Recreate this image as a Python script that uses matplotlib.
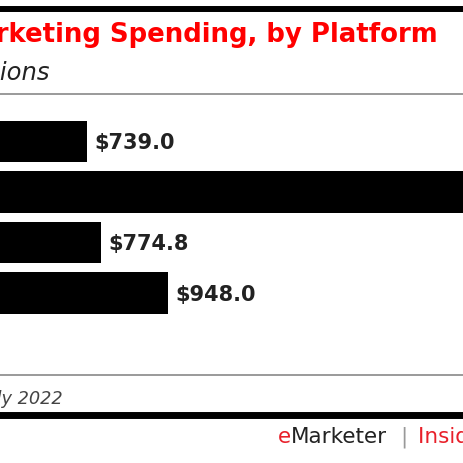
import matplotlib
matplotlib.use('Agg')
import matplotlib.pyplot as plt
from matplotlib.lines import Line2D

platforms = ['Facebook', 'Instagram', 'TikTok', 'YouTube']
spending = [739.0, 2230.0, 774.8, 948.0]
value_labels = ['$739.0', '', '$774.8', '$948.0']

title = 'US Influencer Marketing Spending, by Platform'
subtitle = 'millions'
source = 'Source: eMarketer, July 2022'

W = H = 464.0


def fx(px):
    return px / W


def fy(py):
    return 1 - py / H


def main():
    fig = plt.figure(figsize=(4.64, 4.64), dpi=100, facecolor='white')

    # axes run off the left edge, the picture is a crop
    x_max = 2000
    scale = 0.3876  # px per million
    left_px = -199
    ax = fig.add_axes([fx(left_px), fy(319.25), x_max * scale / W, 202 / H])
    ax.barh(range(len(platforms)), spending, height=0.82, color='black')
    for i, (v, lab) in enumerate(zip(spending, value_labels)):
        if lab:
            ax.annotate(lab, (v, i), xytext=(7, -1), textcoords='offset pixels',
                        va='center', ha='left', fontsize=15, fontweight='bold',
                        family='DejaVu Sans', color='#222222')
    ax.set_xlim(0, x_max)
    ax.set_ylim(3.5, -0.5)
    ax.axis('off')

    # rules
    fig.add_artist(Line2D([0, 1], [fy(10), fy(10)], color='black', lw=4.3))
    fig.add_artist(Line2D([0, 1], [fy(95), fy(95)], color='#9a9a9a', lw=1.4))
    fig.add_artist(Line2D([0, 1], [fy(376), fy(376)], color='#9a9a9a', lw=1.4))
    fig.add_artist(Line2D([0, 1], [fy(415.5), fy(415.5)], color='black', lw=5))

    fig.text(fx(438), fy(42), title, ha='right', va='baseline', fontsize=18.7,
             fontweight='bold', family='DejaVu Sans', color='#ff0000')
    fig.text(fx(50), fy(80), subtitle, ha='right', va='baseline', fontsize=17.5,
             style='italic', family='DejaVu Sans', color='#222222')
    fig.text(fx(63), fy(404), source, ha='right', va='baseline', fontsize=12.8,
             style='italic', family='DejaVu Sans', color='#444444')

    # footer branding
    fig.text(fx(278), fy(443), 'e', ha='left', va='baseline', fontsize=15.5,
             family='DejaVu Sans', color='#e8202a')
    fig.text(fx(291), fy(443), 'Marketer', ha='left', va='baseline', fontsize=15.5,
             family='DejaVu Sans', color='#222222')
    fig.text(fx(404), fy(443), '|', ha='center', va='baseline', fontsize=15.5,
             family='DejaVu Sans', color='#999999')
    fig.text(fx(418), fy(443), 'Insider Intelligence', ha='left', va='baseline',
             fontsize=15.5, family='DejaVu Sans', color='#e8202a')

    fig.savefig('out.png', dpi=100, facecolor='white')


if __name__ == '__main__':
    main()
